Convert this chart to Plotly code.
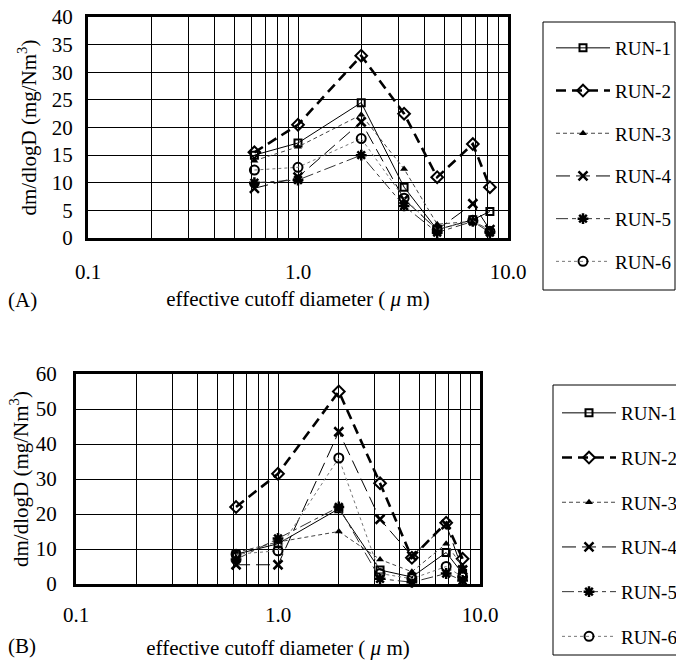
import plotly.graph_objects as go

# ---- data ----
diam = [0.62, 1.0, 2.0, 3.2, 4.6, 6.8, 8.2]
run_names = ["RUN-1", "RUN-2", "RUN-3", "RUN-4", "RUN-5", "RUN-6"]

run1_a = [15.0, 17.2, 24.5, 9.2, 1.5, 3.3, 4.8]
run2_a = [15.5, 20.5, 33.0, 22.5, 11.0, 17.0, 9.2]
run3_a = [14.0, 16.5, 22.3, 12.5, 2.5, 3.0, 1.5]
run4_a = [9.0, 11.0, 21.0, 7.0, 1.5, 6.2, 1.5]
run5_a = [10.0, 10.5, 15.0, 5.8, 1.0, 3.0, 1.0]
run6_a = [12.3, 12.8, 18.0, 7.2, 1.5, 3.2, 1.2]

run1_b = [8.5, 11.5, 21.5, 4.0, 2.0, 9.0, 3.0]
run2_b = [22.0, 31.5, 55.0, 28.8, 7.5, 17.5, 7.2]
run3_b = [9.0, 12.0, 15.0, 7.0, 3.5, 11.5, 5.0]
run4_b = [5.5, 5.5, 43.5, 18.5, 8.0, 17.0, 4.0]
run5_b = [7.0, 13.0, 22.0, 1.5, 0.5, 3.0, 1.0]
run6_b = [8.5, 9.5, 36.0, 3.0, 1.5, 5.0, 2.0]

grid_vals = [0.1, 0.2, 0.3, 0.4, 0.5, 0.6, 0.7, 0.8, 0.9,
             1, 2, 3, 4, 5, 6, 7, 8, 9, 10]
grid_text = ["0.1"] + [""] * 8 + ["1.0"] + [""] * 8 + ["10.0"]

# ---- styles ----
styles = [
    dict(line=dict(color="black", width=1, dash="solid"),
         marker=dict(symbol="square-open", size=7, color="black", line=dict(width=2))),
    dict(line=dict(color="black", width=2.6, dash="10px,6px"),
         marker=dict(symbol="diamond-open", size=9, color="black", line=dict(width=2))),
    dict(line=dict(color="#444", width=1, dash="4px,3px"),
         marker=dict(symbol="triangle-up", size=7, color="black")),
    dict(line=dict(color="black", width=1, dash="14px,6px"),
         marker=dict(symbol="x-thin-open", size=9, color="black", line=dict(width=2.5))),
    dict(line=dict(color="#333", width=1, dash="12px,4px,4px,4px"),
         marker=dict(symbol="asterisk-open", size=9, color="black", line=dict(width=2.5))),
    dict(line=dict(color="#777", width=1, dash="dot"),
         marker=dict(symbol="circle-open", size=9, color="black", line=dict(width=2))),
]

fig = go.Figure()
sets_a = [run1_a, run2_a, run3_a, run4_a, run5_a, run6_a]
sets_b = [run1_b, run2_b, run3_b, run4_b, run5_b, run6_b]

for i, (name, ys) in enumerate(zip(run_names, sets_a)):
    fig.add_trace(go.Scatter(x=diam, y=ys, name=name, mode="lines+markers",
                             xaxis="x", yaxis="y", legend="legend",
                             legendgroup="a" + name, cliponaxis=False, **styles[i]))
for i, (name, ys) in enumerate(zip(run_names, sets_b)):
    fig.add_trace(go.Scatter(x=diam, y=ys, name=name, mode="lines+markers",
                             xaxis="x2", yaxis="y2", legend="legend2",
                             legendgroup="b" + name, cliponaxis=False, **styles[i]))

FONT = "Liberation Serif, Times New Roman, serif"
W, H = 676, 660

def px_x(a, b):
    return [a / W, b / W]

def px_y(top, bottom):
    return [1 - bottom / H, 1 - top / H]

axis_common = dict(showline=True, linecolor="black", linewidth=3, mirror=True,
                   showgrid=True, gridcolor="black", gridwidth=1, zeroline=False,
                   automargin=False,
                   tickfont=dict(family=FONT, size=21, color="black"), ticks="")

xtitle = "effective cutoff diameter ( <i>μ</i> m)"
ytitle = "dm/dlogD (mg/Nm<sup>3</sup>)"

fig.update_layout(
    width=W, height=H, margin=dict(l=0, r=0, t=0, b=0, autoexpand=False),
    paper_bgcolor="white", plot_bgcolor="white",
    font=dict(family=FONT, size=19, color="black"),
    xaxis=dict(type="log", range=[-1, 1], domain=px_x(88, 508), anchor="y",
               tickvals=grid_vals, ticktext=grid_text, ticklabelstandoff=13,
               title=dict(text=xtitle, font=dict(family=FONT, size=21), standoff=9),
               **axis_common),
    yaxis=dict(range=[0, 40], dtick=5, domain=px_y(17, 238), anchor="x",
               ticklabelstandoff=8,
               title=dict(text=ytitle, font=dict(family=FONT, size=21), standoff=10),
               **axis_common),
    xaxis2=dict(type="log", range=[-1, 1], domain=px_x(76, 480), anchor="y2",
                tickvals=grid_vals, ticktext=grid_text, ticklabelstandoff=10,
                title=dict(text=xtitle, font=dict(family=FONT, size=21), standoff=17),
                **axis_common),
    yaxis2=dict(range=[0, 60], dtick=10, domain=px_y(374, 584), anchor="x2",
                ticklabelstandoff=12,
                title=dict(text=ytitle, font=dict(family=FONT, size=21), standoff=2),
                **axis_common),
    legend=dict(x=551 / W, y=1 - 29 / H, xanchor="left", yanchor="top",
                borderwidth=0, bgcolor="rgba(0,0,0,0)",
                font=dict(family=FONT, size=19, color="black"),
                itemwidth=54, traceorder="grouped", tracegroupgap=15),
    legend2=dict(x=557 / W, y=1 - 394 / H, xanchor="left", yanchor="top",
                 borderwidth=0, bgcolor="rgba(0,0,0,0)",
                 font=dict(family=FONT, size=19, color="black"),
                 itemwidth=54, traceorder="grouped", tracegroupgap=17),
    showlegend=True,
    shapes=[
        dict(type="rect", xref="paper", yref="paper",
             x0=543 / W, x1=675 / W, y0=1 - 290 / H, y1=1 - 22 / H,
             line=dict(color="black", width=1)),
        dict(type="rect", xref="paper", yref="paper",
             x0=553 / W, x1=700 / W, y0=1 - 655 / H, y1=1 - 385 / H,
             line=dict(color="black", width=1)),
    ],
    annotations=[
        dict(text="(A)", x=6 / W, y=1 - 300 / H, xref="paper", yref="paper",
             xanchor="left", yanchor="middle", showarrow=False,
             font=dict(family=FONT, size=21, color="black")),
        dict(text="(B)", x=6 / W, y=1 - 646 / H, xref="paper", yref="paper",
             xanchor="left", yanchor="middle", showarrow=False,
             font=dict(family=FONT, size=21, color="black")),
    ],
)

fig.write_html("out.html", config={"displayModeBar": False},
               post_script="document.body.style.margin='0';document.body.style.overflow='hidden';")
